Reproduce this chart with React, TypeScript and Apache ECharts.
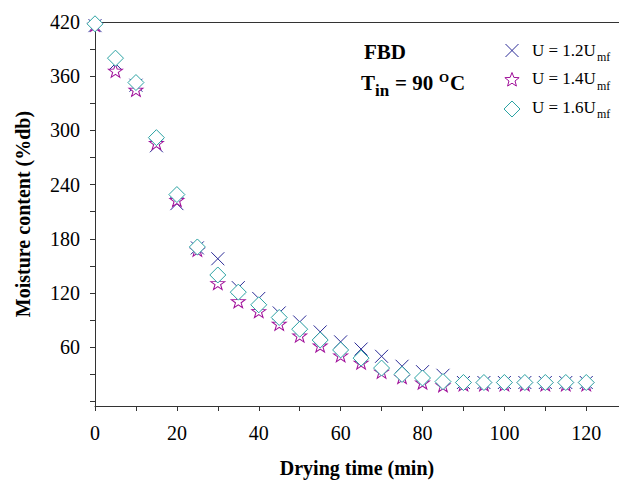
import React, { useEffect, useRef } from "react";
import * as echarts from "echarts";

// ---- data ----
const times = [0, 5, 10, 15, 20, 25, 30, 35, 40, 45, 50, 55, 60, 65, 70, 75, 80, 85, 90, 95, 100, 105, 110, 115, 120];
const u12 = [416, 374, 350, 283, 219, 170, 158, 126, 114, 98, 88, 77, 66, 58, 50, 39, 33, 29, 21, 21, 21, 21, 21, 21, 21];
const u14 = [417, 366, 345, 286, 223, 168, 131, 111, 100, 86, 73, 62, 51, 43, 33, 27, 21, 18, 19, 19, 19, 19, 19, 19, 19];
const u16 = [418, 380, 353, 292, 229, 171, 140, 121, 107, 93, 80, 68, 57, 48, 37, 30, 26, 22, 21, 21, 21, 21, 21, 21, 21];

const seriesNames = ["U = 1.2U", "U = 1.4U", "U = 1.6U"];
const xLabelValues = [0, 20, 40, 60, 80, 100, 120];
const xTickValues = [0, 10, 20, 30, 40, 50, 60, 70, 80, 90, 100, 110, 120];
const yLabelValues = [60, 120, 180, 240, 300, 360, 420];
const yTickValues = [0, 30, 60, 90, 120, 150, 180, 210, 240, 270, 300, 330, 360, 390, 420];

const C_X = "#2a2a96";
const C_STAR = "#a0109a";
const C_DIA = "#2ba3a3";
const FONT = "'Liberation Serif', 'Times New Roman', serif";

const X_PATH = "path://M0,0L10,10M10,0L0,10";
const STAR_PATH =
  "path://M10,0L12.35,6.76L19.51,6.91L13.8,11.24L15.88,18.09L10,14L4.12,18.09L6.2,11.24L0.49,6.91L7.65,6.76Z";

function starPoints(cx: number, cy: number, R: number, r: number) {
  const pts: number[][] = [];
  for (let i = 0; i < 10; i++) {
    const a = -Math.PI / 2 + (i * Math.PI) / 5;
    const rad = i % 2 === 0 ? R : r;
    pts.push([cx + rad * Math.cos(a), cy + rad * Math.sin(a)]);
  }
  return pts;
}

function pairs(ys: number[]) {
  return times.map((t, i) => [t, ys[i]]);
}

export default function App() {
  const ref = useRef<HTMLDivElement>(null);
  useEffect(() => {
    if (!ref.current) return;
    const chart = echarts.init(ref.current, undefined, { renderer: "svg" });
    const legendRows = [
      { y: 50, name: seriesNames[0] },
      { y: 78.5, name: seriesNames[1] },
      { y: 107, name: seriesNames[2] },
    ];
    const legendGraphics: any[] = [];
    legendGraphics.push(
      { type: "line", shape: { x1: 505.5, y1: 44, x2: 518.5, y2: 57 }, style: { stroke: C_X, lineWidth: 1 } },
      { type: "line", shape: { x1: 518.5, y1: 44, x2: 505.5, y2: 57 }, style: { stroke: C_X, lineWidth: 1 } },
      { type: "polygon", shape: { points: starPoints(512, 80, 7.5, 3.2) }, style: { fill: "#fff", stroke: C_STAR, lineWidth: 1 } },
      { type: "polygon", shape: { points: [[512, 101], [520, 109], [512, 117], [504, 109]] }, style: { fill: "#fff", stroke: C_DIA, lineWidth: 1 } }
    );
    legendRows.forEach((r) => {
      legendGraphics.push(
        { type: "text", x: 532, y: r.y, style: { text: r.name, fontFamily: FONT, fontSize: 17, fill: "#000", align: "left", verticalAlign: "middle" } },
        { type: "text", x: 597, y: r.y + 7, style: { text: "mf", fontFamily: FONT, fontSize: 12, fill: "#000", align: "left", verticalAlign: "middle" } }
      );
    });
    const bold = { fontFamily: FONT, fontWeight: "bold", fill: "#000", align: "left", verticalAlign: "middle" };
    const annot: any[] = [
      { type: "text", x: 364, y: 52, style: { ...bold, text: "FBD", fontSize: 21 } },
      { type: "text", x: 361, y: 82.5, style: { ...bold, text: "T", fontSize: 21 } },
      { type: "text", x: 375, y: 90, style: { ...bold, text: "in", fontSize: 17 } },
      { type: "text", x: 395, y: 82.5, style: { ...bold, text: "= 90", fontSize: 21 } },
      { type: "text", x: 439, y: 77, style: { ...bold, text: "O", fontSize: 13 } },
      { type: "text", x: 450, y: 82.5, style: { ...bold, text: "C", fontSize: 21 } },
    ];

    const axisLineStyle = { color: "#333", width: 1 };
    chart.setOption({
      animation: false,
      backgroundColor: "#fff",
      grid: { left: 95, top: 22, right: 0, bottom: 77, containLabel: false },
      xAxis: [
        {
          type: "value",
          min: 0,
          max: 128,
          position: "bottom",
          axisLine: { show: true, onZero: false, lineStyle: axisLineStyle },
          axisTick: { show: true, length: 5, customValues: xTickValues, lineStyle: axisLineStyle },
          axisLabel: { customValues: xLabelValues, fontFamily: FONT, fontSize: 20, color: "#000", margin: 17 },
          splitLine: { show: false },
          name: "Drying time (min)",
          nameLocation: "middle",
          nameGap: 52,
          nameTextStyle: { fontFamily: FONT, fontSize: 20, fontWeight: "bold", color: "#000" },
        },
        {
          type: "value",
          min: 0,
          max: 128,
          position: "top",
          axisLine: { show: true, onZero: false, lineStyle: axisLineStyle },
          axisTick: { show: false },
          axisLabel: { show: false },
          splitLine: { show: false },
        },
      ],
      yAxis: {
        type: "value",
        min: -5,
        max: 420,
        axisLine: { show: true, onZero: false, lineStyle: axisLineStyle },
        axisTick: { show: true, length: 5, customValues: yTickValues, lineStyle: axisLineStyle },
        axisLabel: { customValues: yLabelValues, fontFamily: FONT, fontSize: 20, color: "#000", margin: 15 },
        splitLine: { show: false },
        name: "Moisture content (%db)",
        nameLocation: "middle",
        nameGap: 62,
        nameRotate: 90,
        nameTextStyle: { fontFamily: FONT, fontSize: 20, fontWeight: "bold", color: "#000" },
      },
      series: [
        {
          name: seriesNames[0],
          type: "scatter",
          data: pairs(u12),
          symbol: X_PATH,
          symbolSize: [13, 13],
          itemStyle: { color: "rgba(0,0,0,0)", borderColor: C_X, borderWidth: 1, opacity: 1 },
          z: 2,
        },
        {
          name: seriesNames[1],
          type: "scatter",
          data: pairs(u14),
          symbol: STAR_PATH,
          symbolSize: [14, 13],
          itemStyle: { color: "#fff", borderColor: C_STAR, borderWidth: 1, opacity: 1 },
          z: 3,
        },
        {
          name: seriesNames[2],
          type: "scatter",
          data: pairs(u16),
          symbol: "diamond",
          symbolSize: [16, 16],
          itemStyle: { color: "#fff", borderColor: C_DIA, borderWidth: 1, opacity: 1 },
          z: 4,
        },
      ],
      graphic: [...legendGraphics, ...annot],
    });
    return () => chart.dispose();
  }, []);
  return <div ref={ref} style={{ position: "fixed", left: 0, top: 0, width: 619, height: 483 }} />;
}
